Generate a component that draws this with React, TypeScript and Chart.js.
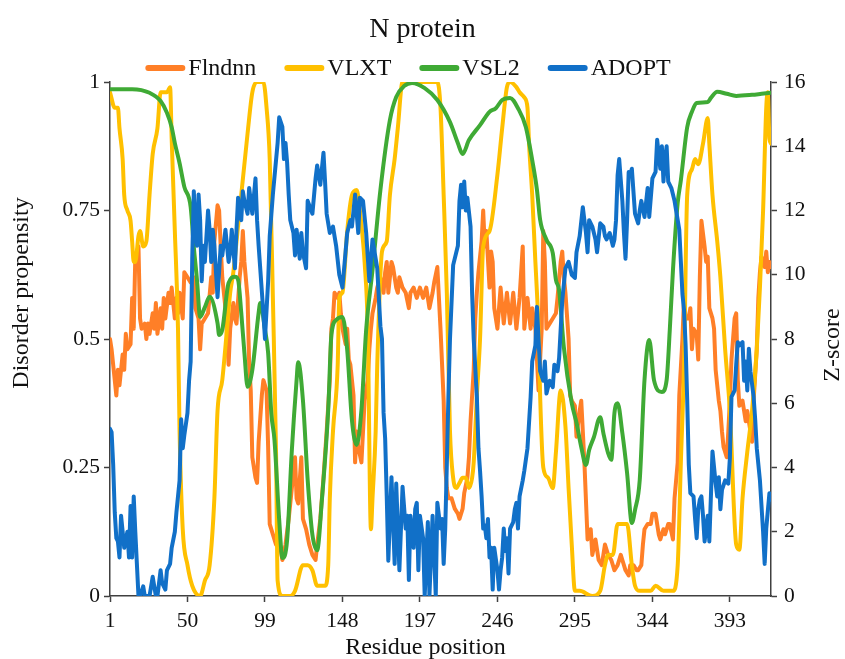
import React, { useEffect, useRef } from 'react';
import { Chart, registerables } from 'chart.js';

Chart.register(...registerables);

const FONT = '"Liberation Serif", "Times New Roman", serif';
const TEXT = '#111111';
const AXIS = '#404040';

const TITLE = 'N protein';
const X_TITLE = 'Residue position';
const Y_TITLE = 'Disorder propensity';
const Z_TITLE = 'Z-score';

const RESIDUE_TICKS = [1, 50, 99, 148, 197, 246, 295, 344, 393];
const PROPENSITY_TICKS = [0, 0.25, 0.5, 0.75, 1];
const Z_TICKS = [0, 2, 4, 6, 8, 10, 12, 14, 16];

const SERIES_NAMES = ['Flndnn', 'VLXT', 'VSL2', 'ADOPT'];
const SERIES_COLORS = ['#FF7F27', '#FFC000', '#3FAA35', '#1170C8'];

// [residue, disorder propensity]
const flndnn = [
  [1,0.50],[2,0.48],[4,0.42],[5,0.39],[6,0.44],[7,0.41],[9,0.47],[10,0.44],[11,0.51],[12,0.48],[14,0.49],[15,0.58],[16,0.52],[17,0.66],[19,0.68],[20,0.54],[21,0.52],[23,0.53],[24,0.50],[25,0.53],[26,0.51],[28,0.55],[29,0.52],[30,0.57],[31,0.51],[33,0.56],[34,0.52],[35,0.58],[36,0.54],[38,0.59],[39,0.57],[40,0.60],[42,0.54],[43,0.58],[44,0.55],[45,0.59],[47,0.54],[48,0.63],[50,0.62],[52,0.61],[54,0.62],[55,0.56],[57,0.54],[58,0.48],[59,0.53],[61,0.54],[63,0.55],[65,0.62],[66,0.59],[67,0.69],[69,0.76],[70,0.75],[71,0.68],[72,0.62],[74,0.56],[76,0.45],[77,0.52],[79,0.57],[80,0.54],[81,0.53],[83,0.62],[84,0.65],[85,0.71],[86,0.65],[88,0.58],[89,0.45],[90,0.40],[91,0.27],[93,0.23],[94,0.22],[95,0.30],[97,0.39],[98,0.42],[99,0.41],[100,0.40],[101,0.29],[102,0.14],[104,0.12],[106,0.10],[108,0.11],[110,0.07],[112,0.10],[114,0.15],[116,0.21],[118,0.27],[119,0.19],[120,0.18],[122,0.27],[123,0.15],[125,0.13],[127,0.10],[129,0.08],[131,0.07],[132,0.10],[134,0.15],[136,0.23],[138,0.32],[140,0.42],[141,0.52],[142,0.54],[143,0.59],[145,0.58],[146,0.59],[147,0.55],[148,0.52],[150,0.49],[151,0.52],[152,0.46],[153,0.45],[155,0.39],[156,0.26],[157,0.32],[158,0.29],[160,0.26],[161,0.32],[162,0.38],[164,0.42],[165,0.48],[166,0.52],[167,0.55],[169,0.58],[170,0.60],[172,0.62],[174,0.59],[175,0.63],[176,0.65],[177,0.59],[179,0.65],[180,0.64],[182,0.60],[183,0.59],[184,0.62],[186,0.60],[188,0.59],[190,0.56],[191,0.59],[193,0.60],[195,0.58],[197,0.60],[199,0.58],[201,0.60],[203,0.56],[205,0.59],[206,0.61],[208,0.64],[209,0.58],[210,0.52],[212,0.38],[213,0.25],[214,0.21],[215,0.19],[217,0.19],[219,0.17],[221,0.16],[222,0.15],[224,0.17],[225,0.20],[227,0.23],[228,0.27],[229,0.34],[231,0.44],[232,0.54],[233,0.59],[234,0.63],[236,0.69],[237,0.75],[238,0.68],[239,0.71],[241,0.60],[242,0.67],[243,0.65],[244,0.56],[246,0.52],[248,0.60],[250,0.53],[252,0.59],[254,0.53],[256,0.59],[258,0.52],[260,0.58],[262,0.68],[263,0.52],[265,0.58],[267,0.52],[268,0.56],[270,0.52],[272,0.40],[274,0.52],[275,0.71],[276,0.65],[277,0.52],[279,0.53],[281,0.54],[283,0.55],[284,0.58],[286,0.65],[287,0.67],[288,0.62],[289,0.59],[291,0.50],[292,0.39],[293,0.38],[295,0.37],[296,0.31],[298,0.36],[299,0.38],[301,0.26],[303,0.11],[305,0.13],[306,0.08],[308,0.11],[310,0.07],[312,0.06],[314,0.10],[316,0.08],[318,0.07],[320,0.05],[322,0.06],[324,0.08],[325,0.07],[327,0.05],[329,0.04],[330,0.06],[332,0.06],[334,0.05],[335,0.05],[337,0.06],[338,0.10],[339,0.13],[341,0.14],[343,0.14],[344,0.16],[346,0.16],[348,0.12],[349,0.11],[351,0.13],[352,0.12],[354,0.14],[355,0.14],[357,0.11],[358,0.19],[360,0.26],[361,0.39],[363,0.50],[364,0.58],[365,0.54],[367,0.54],[368,0.56],[369,0.48],[370,0.52],[372,0.51],[373,0.46],[374,0.62],[375,0.73],[377,0.68],[378,0.65],[379,0.66],[380,0.56],[382,0.54],[383,0.52],[384,0.44],[386,0.38],[387,0.36],[388,0.32],[389,0.29],[391,0.27],[392,0.32],[393,0.38],[394,0.46],[396,0.54],[397,0.55],[398,0.42],[399,0.37],[401,0.38],[402,0.36],[403,0.34],[404,0.36],[406,0.32],[407,0.30],[408,0.38],[410,0.48],[411,0.58],[412,0.63],[413,0.66],[415,0.64],[416,0.67],[417,0.63],[418,0.65],[419,0.64],
];

// [residue, disorder propensity]
const vlxt = [
  [1,0.98],[4,0.95],[6,0.95],[7,0.91],[9,0.85],[10,0.78],[12,0.75],[14,0.73],[15,0.69],[16,0.65],[17,0.65],[19,0.70],[20,0.71],[22,0.68],[24,0.69],[26,0.78],[28,0.86],[31,0.91],[33,0.98],[35,0.98],[37,0.98],[39,0.99],[40,0.89],[42,0.71],[44,0.52],[45,0.32],[47,0.13],[50,0.06],[53,0.02],[58,0.0],[61,0.03],[64,0.06],[67,0.19],[69,0.36],[72,0.42],[75,0.52],[77,0.59],[79,0.63],[82,0.72],[88,0.90],[91,0.98],[94,1.0],[98,1.0],[100,0.95],[102,0.85],[104,0.58],[106,0.28],[107,0.03],[110,0.0],[115,0.0],[118,0.01],[123,0.06],[126,0.06],[129,0.05],[132,0.02],[137,0.02],[139,0.06],[140,0.19],[142,0.32],[145,0.45],[146,0.58],[148,0.59],[151,0.71],[154,0.78],[157,0.79],[159,0.75],[161,0.69],[162,0.65],[164,0.52],[166,0.13],[167,0.19],[169,0.32],[170,0.45],[173,0.67],[176,0.69],[178,0.78],[181,0.85],[183,0.91],[186,1.0],[208,1.0],[210,0.95],[212,0.78],[214,0.59],[216,0.32],[218,0.23],[220,0.21],[222,0.22],[224,0.23],[226,0.23],[228,0.21],[230,0.23],[231,0.26],[233,0.39],[235,0.50],[237,0.68],[241,0.71],[246,0.82],[249,0.91],[252,0.99],[254,1.0],[258,0.99],[260,0.98],[263,0.97],[265,0.95],[266,0.88],[268,0.78],[270,0.65],[271,0.59],[272,0.52],[273,0.39],[275,0.25],[278,0.23],[281,0.21],[283,0.28],[286,0.40],[289,0.33],[291,0.21],[293,0.10],[295,0.01],[298,0.01],[306,0.0],[311,0.01],[314,0.06],[316,0.08],[319,0.08],[322,0.14],[325,0.14],[328,0.14],[331,0.06],[333,0.02],[336,0.01],[343,0.01],[346,0.02],[351,0.01],[357,0.01],[360,0.06],[362,0.26],[364,0.45],[366,0.78],[369,0.83],[371,0.85],[373,0.84],[376,0.88],[379,0.93],[380,0.88],[382,0.78],[385,0.69],[387,0.62],[390,0.48],[393,0.36],[397,0.10],[399,0.09],[401,0.19],[404,0.28],[407,0.36],[410,0.48],[412,0.60],[414,0.75],[416,0.95],[417,0.98],[418,0.89],[419,0.88],
];

// [residue, disorder propensity]
const vsl2 = [
  [1,0.986],[15,0.986],[26,0.979],[33,0.963],[37,0.94],[40,0.912],[42,0.881],[45,0.842],[48,0.796],[52,0.757],[54,0.679],[56,0.615],[58,0.543],[61,0.562],[64,0.582],[69,0.531],[70,0.508],[72,0.518],[76,0.609],[80,0.621],[82,0.615],[84,0.551],[86,0.473],[88,0.407],[91,0.44],[95,0.551],[96,0.57],[99,0.518],[101,0.473],[103,0.356],[105,0.304],[108,0.148],[110,0.074],[113,0.109],[116,0.284],[119,0.42],[120,0.455],[123,0.381],[126,0.226],[129,0.119],[132,0.089],[135,0.187],[139,0.362],[141,0.508],[144,0.537],[148,0.543],[151,0.479],[154,0.342],[157,0.294],[160,0.362],[163,0.518],[167,0.634],[172,0.79],[178,0.926],[182,0.971],[187,0.992],[192,0.998],[200,0.988],[208,0.965],[216,0.922],[221,0.881],[224,0.86],[228,0.887],[235,0.916],[241,0.942],[245,0.949],[249,0.965],[254,0.969],[259,0.949],[264,0.912],[268,0.848],[271,0.79],[273,0.732],[277,0.693],[281,0.667],[283,0.615],[285,0.595],[288,0.484],[293,0.375],[296,0.337],[299,0.29],[302,0.255],[304,0.284],[307,0.309],[311,0.348],[313,0.317],[316,0.278],[318,0.265],[320,0.356],[322,0.375],[325,0.317],[328,0.239],[331,0.142],[333,0.167],[336,0.226],[339,0.42],[342,0.498],[345,0.42],[350,0.397],[353,0.42],[355,0.518],[357,0.634],[360,0.765],[362,0.809],[366,0.912],[369,0.942],[372,0.959],[379,0.961],[381,0.969],[385,0.981],[391,0.977],[397,0.973],[407,0.975],[413,0.977],[419,0.979],
];

// [residue, Z-score]
const adopt = [
  [1,5.2],[2,5.1],[3,4.1],[4,2.6],[5,1.8],[6,1.7],[7,1.2],[8,2.5],[9,2.0],[10,1.5],[12,2.0],[13,1.2],[14,2.8],[15,1.2],[16,3.1],[17,2.0],[18,1.0],[19,0],[20,0],[22,0.3],[23,0],[26,0],[28,0.6],[30,0],[31,0],[33,0.8],[34,0.4],[36,0.2],[37,0.8],[39,1.0],[40,1.5],[42,2.0],[43,2.6],[45,3.6],[46,5.5],[47,4.6],[48,5.0],[50,5.7],[51,6.7],[52,7.3],[53,10.5],[54,12.6],[55,11.4],[56,10.9],[57,12.5],[58,11.7],[59,9.8],[60,10.9],[61,10.4],[63,12.0],[64,11.4],[65,10.4],[66,11.4],[67,10.9],[69,9.3],[71,10.9],[72,10.6],[74,11.4],[76,10.4],[77,10.7],[78,11.4],[80,10.2],[81,11.4],[82,12.4],[83,11.9],[84,11.7],[85,12.6],[86,12.3],[88,11.9],[89,12.7],[90,12.3],[91,11.9],[93,13.0],[94,11.7],[95,10.9],[96,10.2],[98,8.8],[99,8.0],[101,9.8],[102,11.2],[104,12.5],[107,14.1],[108,14.9],[110,14.6],[111,13.6],[112,14.1],[113,13.5],[114,12.5],[115,11.7],[117,11.3],[118,10.6],[119,11.4],[121,10.5],[122,11.3],[123,10.7],[125,10.2],[126,12.3],[129,11.9],[131,13.0],[132,13.4],[134,12.8],[136,13.8],[137,12.9],[138,11.9],[140,11.3],[142,11.5],[144,10.9],[146,10.0],[148,9.6],[151,11.3],[153,11.7],[154,11.5],[156,12.5],[158,11.3],[159,12.4],[161,12.3],[163,11.3],[165,9.8],[167,11.1],[170,10.2],[172,8.4],[173,8.0],[174,5.7],[175,4.9],[176,3.1],[177,1.1],[178,2.4],[179,3.7],[181,1.0],[182,3.5],[184,0.8],[186,3.4],[188,2.1],[189,2.5],[190,0.5],[191,2.5],[193,1.5],[194,2.7],[195,2.9],[196,0.8],[197,2.5],[199,1.8],[200,0],[202,2.3],[203,0],[205,2.5],[207,0],[208,2.9],[210,2.1],[211,2.4],[212,1.0],[213,2.1],[214,4.1],[215,6.2],[216,8.0],[218,10.3],[221,10.9],[222,12.3],[223,12.8],[224,12.1],[225,12.9],[226,12.0],[227,12.4],[229,11.5],[230,9.4],[231,8.0],[233,6.2],[234,4.6],[235,3.9],[236,3.1],[237,2.1],[238,2.2],[239,1.8],[240,2.4],[241,1.2],[242,1.5],[243,0.2],[244,1.5],[246,0.8],[247,0.2],[248,0.8],[249,1.2],[250,2.1],[251,1.4],[252,1.8],[253,0.7],[254,2.1],[256,2.3],[257,2.7],[258,2.9],[259,2.1],[260,3.1],[262,3.6],[263,3.9],[265,4.6],[267,6.2],[268,7.3],[270,7.8],[271,9.0],[272,8.0],[273,7.0],[275,6.7],[276,7.3],[277,6.3],[279,6.7],[281,6.5],[282,7.2],[284,7.0],[285,7.4],[287,9.2],[289,10.2],[291,10.4],[292,10.2],[293,10.0],[295,9.9],[296,10.7],[298,11.2],[300,12.1],[301,11.7],[302,11.3],[303,10.7],[304,11.7],[306,11.5],[308,11.1],[309,10.7],[311,11.6],[313,11.5],[314,11.2],[315,11.1],[317,11.3],[319,10.9],[320,11.1],[321,11.7],[322,13.1],[323,13.6],[325,12.3],[326,11.3],[327,10.5],[328,11.7],[329,13.2],[330,13.1],[331,13.3],[333,11.9],[335,11.6],[336,12.0],[337,12.3],[339,11.8],[341,12.7],[342,11.8],[344,13.0],[346,13.2],[347,14.2],[349,13.3],[350,14.0],[351,12.9],[352,13.6],[353,14.0],[354,12.9],[355,12.8],[356,12.7],[358,12.3],[360,11.7],[361,11.4],[362,10.4],[363,9.4],[364,8.9],[365,7.8],[366,6.1],[367,4.1],[368,3.2],[370,3.1],[371,2.4],[372,1.8],[373,2.7],[374,3.0],[375,3.1],[376,2.5],[377,1.7],[379,2.5],[380,1.7],[382,4.5],[384,3.5],[385,3.1],[386,3.7],[387,2.7],[388,3.3],[390,3.6],[392,3.5],[393,4.3],[394,6.2],[396,6.4],[397,7.2],[398,7.9],[399,7.8],[401,7.9],[402,6.7],[403,7.3],[404,6.4],[405,7.7],[406,7.0],[408,6.2],[409,5.5],[410,4.6],[412,3.6],[414,2.0],[415,1.0],[416,2.1],[418,3.2],[419,3.0],
];

const toPoints = (arr: number[][]) => arr.map(([x, y]) => ({ x, y }));

const TICK_SIZE = 21.5;
const AXIS_TITLE_SIZE = 24;
const TITLE_SIZE = 28;
const LEGEND_FONT_SIZE = 24;
const LEGEND_CENTER_X = 408;
const LEGEND_Y = 68;

const legendPlugin = {
  id: 'seriesLegend',
  afterDraw(chart: any) {
    const { ctx } = chart;
    const sets = chart.data.datasets;
    ctx.save();
    ctx.font = `${LEGEND_FONT_SIZE}px ${FONT}`;
    ctx.textBaseline = 'middle';
    ctx.textAlign = 'left';
    const lineLen = 40;
    const lineGap = 3;
    const itemGap = 28;
    const widths = sets.map((d: any) => ctx.measureText(d.label).width);
    const total =
      widths.reduce((s: number, w: number) => s + lineLen + lineGap + w, 0) + itemGap * (sets.length - 1);
    let x = LEGEND_CENTER_X - total / 2;
    sets.forEach((d: any, i: number) => {
      ctx.strokeStyle = d.borderColor;
      ctx.lineWidth = 6;
      ctx.lineCap = 'round';
      ctx.beginPath();
      ctx.moveTo(x + 3, LEGEND_Y);
      ctx.lineTo(x + lineLen - 3, LEGEND_Y);
      ctx.stroke();
      ctx.fillStyle = TEXT;
      ctx.fillText(d.label, x + lineLen + lineGap, LEGEND_Y + 1);
      x += lineLen + lineGap + widths[i] + itemGap;
    });
    ctx.restore();
  },
};

// Axis titles, placed where the reference puts them.
const axisTitlesPlugin = {
  id: 'axisTitles',
  afterDraw(chart: any) {
    const { ctx, chartArea } = chart;
    const midY = (chartArea.top + chartArea.bottom) / 2;
    const midX = (chartArea.left + chartArea.right) / 2;
    ctx.save();
    ctx.font = `${AXIS_TITLE_SIZE}px ${FONT}`;
    ctx.fillStyle = TEXT;
    ctx.textAlign = 'center';
    ctx.textBaseline = 'middle';
    ctx.fillText(X_TITLE, midX - 15, 648);
    ctx.save();
    ctx.translate(22, midY - 46);
    ctx.rotate(-Math.PI / 2);
    ctx.fillText(Y_TITLE, 0, 0);
    ctx.restore();
    ctx.save();
    ctx.translate(833, midY + 6);
    ctx.rotate(-Math.PI / 2);
    ctx.fillText(Z_TITLE, 0, 0);
    ctx.restore();
    ctx.restore();
  },
};

export default function App() {
  const canvasRef = useRef<HTMLCanvasElement | null>(null);

  useEffect(() => {
    document.body.style.margin = '0';
    const canvas = canvasRef.current;
    if (!canvas) return;
    const tickFont = { family: FONT, size: TICK_SIZE };
    const gridOpts = {
      display: true,
      drawOnChartArea: false,
      drawTicks: true,
      tickLength: 6,
      tickColor: AXIS,
      tickWidth: 1.5,
    };
    const borderOpts = { display: true, color: AXIS, width: 1.5 };
    const datasets = [flndnn, vlxt, vsl2, adopt].map((series, i) => ({
      label: SERIES_NAMES[i],
      data: toPoints(series),
      borderColor: SERIES_COLORS[i],
      backgroundColor: SERIES_COLORS[i],
      borderWidth: 4,
      pointRadius: 0,
      pointHoverRadius: 0,
      borderJoinStyle: 'round',
      borderCapStyle: 'round',
      cubicInterpolationMode: i === 1 || i === 2 ? 'monotone' : 'default',
      tension: 0,
      yAxisID: i === 3 ? 'y1' : 'y',
      order: 4 - i,
    }));

    const chart = new Chart(canvas, {
      type: 'line',
      data: { datasets } as any,
      options: {
        responsive: false,
        animation: false,
        devicePixelRatio: 1,
        layout: { padding: 0 },
        plugins: {
          legend: { display: false },
          tooltip: { enabled: false },
          title: {
            display: true,
            text: TITLE,
            color: TEXT,
            font: { family: FONT, size: TITLE_SIZE, weight: 'normal' },
            padding: { top: 13, bottom: 35.4 },
          },
        },
        scales: {
          x: {
            type: 'linear',
            min: 1,
            max: 419,
            afterBuildTicks: (scale: any) => {
              scale.ticks = RESIDUE_TICKS.map((v) => ({ value: v }));
            },
            afterFit: (scale: any) => {
              scale.height = 63;
            },
            ticks: {
              autoSkip: false,
              maxRotation: 0,
              padding: 6,
              color: TEXT,
              font: tickFont,
              callback: (v: any) => String(v),
            },
            grid: gridOpts,
            border: borderOpts,
            title: { display: false, text: X_TITLE },
          },
          y: {
            type: 'linear',
            position: 'left',
            min: 0,
            max: 1,
            afterBuildTicks: (scale: any) => {
              scale.ticks = PROPENSITY_TICKS.map((v) => ({ value: v }));
            },
            afterFit: (scale: any) => {
              scale.width = 110;
            },
            ticks: { padding: 4, color: TEXT, font: tickFont, callback: (v: any) => String(v) },
            grid: gridOpts,
            border: borderOpts,
            title: { display: false, text: Y_TITLE },
          },
          y1: {
            type: 'linear',
            position: 'right',
            min: 0,
            max: 16,
            afterBuildTicks: (scale: any) => {
              scale.ticks = Z_TICKS.map((v) => ({ value: v }));
            },
            afterFit: (scale: any) => {
              scale.width = 74;
            },
            ticks: { padding: 7, color: TEXT, font: tickFont, callback: (v: any) => String(v) },
            grid: gridOpts,
            border: borderOpts,
            title: { display: false, text: Z_TITLE },
          },
        },
      } as any,
      plugins: [legendPlugin, axisTitlesPlugin],
    });
    return () => chart.destroy();
  }, []);

  return (
    <div style={{ width: 845, height: 659, background: '#ffffff' }}>
      <canvas ref={canvasRef} width={845} height={659} style={{ display: 'block' }} />
    </div>
  );
}
